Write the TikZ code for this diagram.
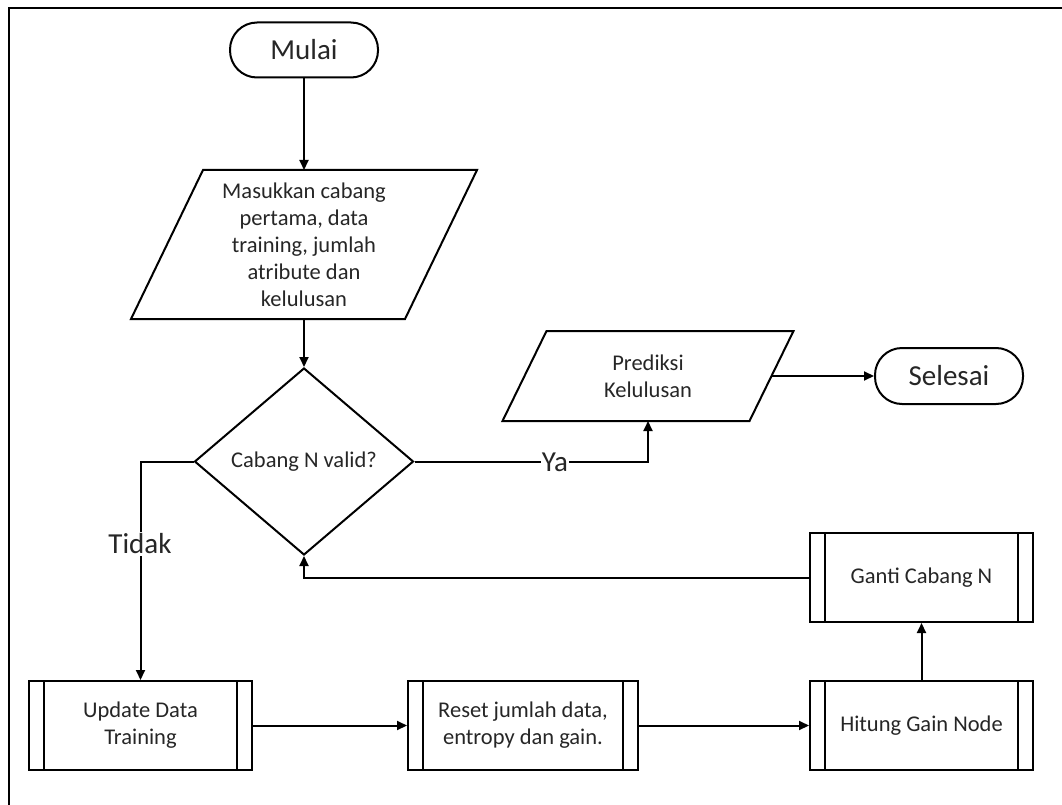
\documentclass[tikz,border=0pt]{standalone}
\usepackage{fontspec}
\setmainfont{Carlito}
\usetikzlibrary{shapes.geometric,arrows.meta,calc}
\begin{document}
\begin{tikzpicture}[x=1pt,y=-1pt,
  line width=2pt,
  boxtext/.style={font=\fontsize{22.5}{27}\selectfont, text=black!85, align=center},
  bigtext/.style={font=\fontsize{29}{33}\selectfont, text=black!85},
  term/.style={draw, rounded corners=27pt, minimum width=148pt, minimum height=55pt, inner sep=0pt, bigtext},
  iobox/.style={draw=none, inner sep=0pt, boxtext},
  decbox/.style={draw, diamond, inner sep=0pt, boxtext},
  subbox/.style={draw, rectangle, minimum width=223pt, minimum height=89pt, inner sep=0pt, boxtext,
    path picture={
      \draw[line width=2pt] ([xshift=15pt]path picture bounding box.north west) -- ([xshift=15pt]path picture bounding box.south west);
      \draw[line width=2pt] ([xshift=-15pt]path picture bounding box.north east) -- ([xshift=-15pt]path picture bounding box.south east);
    }},
  arr/.style={-{Triangle[length=10pt,width=9pt]}},
  lbl/.style={fill=white, inner sep=2pt, bigtext}
]
\useasboundingbox (0,0) rectangle (1062,805);
% frame (top and left edges visible)
\draw[line width=2pt] (9,805) -- (9,8) -- (1062,8);

% nodes
\node[term] (mulai) at (304,50) {Mulai};
\node[iobox, minimum width=272pt, minimum height=147pt] (in1) at (304,244.5)
  {Masukkan cabang\\pertama, data\\training, jumlah\\atribute dan\\kelulusan};
\draw ($(in1.north west)+(36,0)$) -- ($(in1.north east)+(36,0)$) -- ($(in1.south east)+(-36,0)$) -- ($(in1.south west)+(-36,0)$) -- cycle;
\node[decbox, minimum width=219pt, minimum height=187pt] (dec) at (304,461.5) {Cabang N valid?};
\node[iobox, minimum width=245pt, minimum height=88pt] (pred) at (648,376) {Prediksi\\Kelulusan};
\draw ($(pred.north west)+(22,0)$) -- ($(pred.north east)+(22,0)$) -- ($(pred.south east)+(-22,0)$) -- ($(pred.south west)+(-22,0)$) -- cycle;
\node[term, minimum height=56pt] (sel) at (949,376) {Selesai};
\node[subbox] (upd) at (140.5,725.5) {Update Data\\Training};
\node[subbox, minimum width=230pt] (rst) at (523,725.5) {Reset jumlah data,\\entropy dan gain.};
\node[subbox] (hit) at (921.5,725.5) {Hitung Gain Node};
\node[subbox] (gnt) at (921.5,577.5) {Ganti Cabang N};

% connectors
\draw[arr] (mulai.south) -- (in1.north);
\draw[arr] (in1.south) -- (dec.north);
\draw[arr] (dec.west) -| (upd.north);
\node[lbl] at (140,544) {Tidak};
\draw[arr] (dec.east) -| (pred.south);
\node[lbl, inner sep=1pt] at (555,462) {Ya};
\draw[arr] (pred.east) -- (sel.west);
\draw[arr] (upd.east) -- (rst.west);
\draw[arr] (rst.east) -- (hit.west);
\draw[arr] (hit.north) -- (gnt.south);
\draw[arr] (gnt.west) -| (dec.south);
\end{tikzpicture}
\end{document}
